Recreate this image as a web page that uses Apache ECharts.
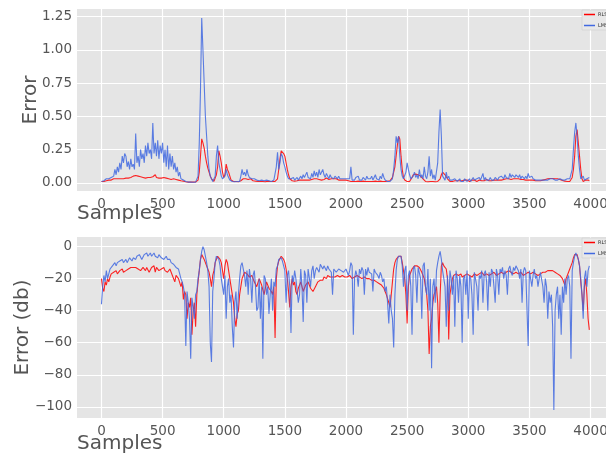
<!DOCTYPE html>
<html>
<head>
<meta charset="utf-8">
<script src="https://cdn.jsdelivr.net/npm/echarts@6/dist/echarts.min.js"></script>
<style>
  html, body { margin: 0; padding: 0; background: #fff; }
  #chart { width: 606px; height: 459px; }
</style>
</head>
<body>
<div id="chart"></div>
<script>
// one value every 10 samples
const STEP = 10;

// top panel: error (linear)
const rlsErr = [
  0.01,0.01,0.01,0.012,0.015,0.012,0.02,0.015,0.02,0.025,0.03,0.025,0.03,0.035,0.03,0.04,0.03,0.035,0.03,0.04,
  0.035,0.04,0.035,0.045,0.04,0.045,0.05,0.04,0.055,0.045,0.05,0.04,0.045,0.035,0.04,0.03,0.035,0.03,0.04,0.035,
  0.04,0.03,0.045,0.05,0.06,0.04,0.045,0.035,0.04,0.035,0.045,0.04,0.05,0.035,0.04,0.03,0.035,0.025,0.035,0.03,
  0.03,0.025,0.03,0.02,0.025,0.015,0.02,0.012,0.01,0.008,0.006,0.005,0.005,0.005,0.004,0.005,0.005,0.006,0.008,0.02,
  0.08,0.2,0.33,0.3,0.26,0.2,0.15,0.11,0.08,0.05,0.03,0.015,0.01,0.02,0.06,0.12,0.24,0.2,0.15,0.08,
  0.04,0.06,0.14,0.1,0.08,0.05,0.02,0.01,0.01,0.008,0.01,0.01,0.008,0.01,0.015,0.02,0.03,0.025,0.03,0.02,
  0.025,0.02,0.03,0.02,0.015,0.01,0.012,0.01,0.01,0.008,0.01,0.012,0.01,0.01,0.008,0.01,0.012,0.01,0.01,0.01,
  0.01,0.008,0.01,0.012,0.03,0.1,0.18,0.24,0.25,0.22,0.2,0.15,0.1,0.06,0.03,0.02,0.015,0.01,0.012,0.01,
  0.015,0.012,0.02,0.015,0.02,0.015,0.02,0.025,0.02,0.025,0.02,0.03,0.025,0.02,0.03,0.025,0.03,0.02,0.025,0.03,
  0.02,0.03,0.025,0.03,0.035,0.03,0.025,0.035,0.03,0.035,0.03,0.025,0.03,0.025,0.02,0.025,0.02,0.025,0.02,0.02,
  0.02,0.015,0.015,0.01,0.01,0.008,0.01,0.008,0.01,0.01,0.012,0.008,0.01,0.01,0.012,0.01,0.01,0.012,0.01,0.01,
  0.01,0.012,0.01,0.01,0.012,0.008,0.01,0.01,0.012,0.01,0.01,0.008,0.01,0.01,0.012,0.01,0.015,0.02,0.04,0.08,
  0.12,0.2,0.28,0.35,0.33,0.2,0.1,0.04,0.02,0.01,0.01,0.008,0.01,0.02,0.04,0.06,0.07,0.065,0.07,0.06,
  0.065,0.05,0.04,0.03,0.02,0.01,0.01,0.008,0.01,0.01,0.008,0.01,0.01,0.008,0.01,0.01,0.015,0.03,0.06,0.08,
  0.08,0.06,0.05,0.03,0.02,0.01,0.015,0.01,0.012,0.015,0.02,0.015,0.01,0.015,0.02,0.015,0.012,0.02,0.015,0.02,
  0.015,0.01,0.015,0.02,0.015,0.02,0.015,0.01,0.015,0.02,0.02,0.015,0.02,0.015,0.02,0.025,0.02,0.015,0.02,0.015,
  0.015,0.02,0.015,0.02,0.025,0.02,0.025,0.02,0.02,0.025,0.02,0.03,0.025,0.03,0.02,0.025,0.02,0.03,0.025,0.03,
  0.025,0.03,0.02,0.025,0.02,0.025,0.03,0.02,0.025,0.02,0.015,0.02,0.015,0.02,0.02,0.015,0.02,0.015,0.02,0.015,
  0.02,0.02,0.025,0.025,0.03,0.03,0.03,0.032,0.03,0.032,0.03,0.03,0.028,0.03,0.025,0.025,0.02,0.018,0.015,0.012,
  0.01,0.01,0.008,0.01,0.02,0.04,0.1,0.2,0.35,0.4,0.3,0.2,0.1,0.03,0.01,0.01,0.02,0.015,0.02,0.015
];
const lmsErr = [
  0.01,0.02,0.015,0.02,0.03,0.02,0.03,0.025,0.04,0.03,0.05,0.1,0.06,0.12,0.08,0.15,0.1,0.2,0.15,0.22,
  0.2,0.12,0.16,0.1,0.18,0.12,0.14,0.1,0.37,0.15,0.2,0.12,0.25,0.18,0.22,0.15,0.28,0.2,0.3,0.22,
  0.25,0.18,0.45,0.22,0.3,0.2,0.32,0.18,0.28,0.22,0.3,0.15,0.25,0.12,0.28,0.1,0.22,0.12,0.2,0.1,
  0.15,0.08,0.12,0.05,0.08,0.03,0.04,0.02,0.02,0.01,0.01,0.005,0.005,0.005,0.005,0.004,0.005,0.005,0.01,0.05,
  0.3,0.7,1.24,1.0,0.75,0.5,0.35,0.2,0.1,0.05,0.03,0.01,0.01,0.05,0.2,0.28,0.15,0.1,0.05,0.03,
  0.02,0.05,0.1,0.06,0.04,0.02,0.01,0.01,0.01,0.008,0.01,0.01,0.008,0.01,0.05,0.1,0.06,0.08,0.05,0.1,
  0.06,0.04,0.05,0.03,0.02,0.03,0.015,0.02,0.01,0.015,0.01,0.02,0.01,0.015,0.01,0.02,0.01,0.015,0.01,0.01,
  0.01,0.02,0.01,0.12,0.23,0.1,0.15,0.22,0.2,0.15,0.12,0.08,0.05,0.03,0.02,0.03,0.02,0.04,0.02,0.03,
  0.04,0.02,0.03,0.05,0.03,0.06,0.04,0.03,0.08,0.04,0.05,0.03,0.07,0.04,0.09,0.05,0.08,0.04,0.1,0.06,
  0.05,0.1,0.06,0.04,0.07,0.05,0.03,0.06,0.04,0.05,0.03,0.05,0.04,0.03,0.05,0.03,0.04,0.03,0.04,0.03,
  0.04,0.03,0.02,0.03,0.12,0.02,0.01,0.02,0.04,0.03,0.05,0.02,0.03,0.02,0.04,0.03,0.02,0.05,0.03,0.02,
  0.03,0.05,0.02,0.04,0.06,0.03,0.04,0.02,0.05,0.03,0.07,0.04,0.02,0.01,0.01,0.01,0.01,0.01,0.03,0.1,
  0.2,0.35,0.3,0.35,0.2,0.1,0.05,0.03,0.02,0.08,0.15,0.1,0.06,0.03,0.02,0.05,0.08,0.04,0.06,0.03,
  0.1,0.04,0.06,0.03,0.12,0.05,0.03,0.08,0.2,0.05,0.1,0.03,0.06,0.02,0.01,0.15,0.38,0.55,0.35,0.05,
  0.06,0.02,0.08,0.03,0.05,0.02,0.01,0.02,0.01,0.03,0.02,0.01,0.02,0.03,0.01,0.02,0.01,0.03,0.02,0.01,
  0.02,0.03,0.01,0.02,0.04,0.02,0.01,0.03,0.02,0.04,0.02,0.03,0.07,0.02,0.04,0.02,0.03,0.02,0.04,0.02,
  0.03,0.02,0.04,0.03,0.02,0.04,0.03,0.05,0.04,0.03,0.06,0.04,0.05,0.03,0.07,0.04,0.06,0.05,0.04,0.06,
  0.05,0.04,0.06,0.03,0.05,0.04,0.03,0.05,0.03,0.07,0.04,0.03,0.05,0.03,0.04,0.02,0.03,0.02,0.03,0.02,
  0.03,0.02,0.03,0.02,0.03,0.02,0.02,0.03,0.02,0.03,0.02,0.02,0.03,0.02,0.02,0.03,0.02,0.02,0.01,0.02,
  0.02,0.03,0.02,0.03,0.04,0.1,0.25,0.38,0.45,0.35,0.2,0.1,0.03,0.02,0.05,0.02,0.01,0.03,0.02,0.04
];

// bottom panel: error in dB
const rlsDb = [
  -20,-26,-28,-22,-24,-20,-22,-19,-17,-18,-16,-17,-15,-17,-16,-15,-16,-14,-16,-15,
  -15,-16,-14,-15,-13,-14,-13,-12,-13,-12,-14,-13,-15,-14,-13,-14,-15,-13,-14,-16,
  -15,-13,-14,-12,-16,-13,-14,-15,-16,-14,-15,-13,-15,-14,-16,-15,-14,-16,-18,-17,
  -22,-18,-17,-20,-19,-25,-22,-33,-28,-30,-45,-35,-38,-32,-55,-40,-35,-50,-30,-22,
  -15,-8,-5,-6,-8,-10,-12,-14,-16,-20,-25,-18,-15,-10,-8,-6,-7,-8,-10,-15,
  -20,-12,-8,-10,-15,-20,-25,-30,-35,-45,-50,-42,-40,-30,-25,-20,-18,-16,-15,-17,
  -17,-19,-20,-18,-18,-22,-22,-25,-25,-20,-20,-24,-24,-30,-30,-22,-22,-26,-26,-28,
  -30,-25,-57,-20,-12,-9,-8,-6,-6,-8,-10,-14,-20,-28,-38,-25,-20,-24,-22,-28,
  -30,-26,-25,-22,-22,-28,-28,-24,-24,-22,-22,-26,-26,-28,-28,-25,-25,-22,-22,-21,
  -20,-21,-19,-20,-20,-18,-19,-19,-20,-19,-18,-19,-19,-18,-18,-19,-19,-18,-19,-19,
  -18,-19,-19,-18,-18,-20,-20,-19,-19,-18,-18,-19,-19,-20,-20,-19,-19,-20,-20,-20,
  -21,-21,-22,-21,-21,-22,-22,-23,-23,-24,-24,-26,-28,-30,-30,-35,-38,-30,-22,-14,
  -10,-8,-7,-6,-5,-6,-10,-15,-20,-30,-48,-25,-18,-16,-14,-13,-12,-12,-12,-12,
  -13,-14,-16,-18,-20,-25,-30,-40,-67,-50,-45,-35,-30,-28,-25,-35,-60,-30,-12,-10,
  -12,-12,-14,-20,-58,-30,-25,-20,-18,-17,-17,-18,-18,-17,-17,-19,-19,-18,-18,-17,
  -17,-18,-18,-19,-19,-17,-17,-18,-18,-17,-17,-16,-16,-18,-18,-17,-17,-18,-18,-17,
  -17,-16,-16,-18,-18,-17,-17,-16,-16,-17,-17,-16,-16,-15,-15,-16,-16,-17,-17,-16,
  -16,-17,-17,-16,-16,-18,-18,-17,-17,-16,-16,-17,-17,-16,-16,-17,-17,-18,-18,-17,
  -17,-16,-16,-16,-16,-15,-15,-15,-15,-15,-16,-16,-16,-17,-17,-18,-18,-20,-22,-24,
  -20,-18,-16,-14,-12,-10,-7,-5,-4,-5,-8,-12,-22,-30,-40,-25,-20,-30,-45,-52
];
const lmsDb = [
  -36,-25,-18,-22,-15,-20,-17,-14,-15,-12,-13,-10,-12,-10,-11,-9,-10,-8,-10,-9,
  -8,-10,-9,-7,-8,-9,-7,-6,-8,-6,-7,-5,-6,-8,-7,-5,-6,-4,-6,-5,
  -4,-6,-5,-4,-6,-5,-7,-5,-6,-7,-6,-8,-7,-6,-8,-9,-8,-10,-9,-11,
  -10,-13,-12,-14,-15,-20,-22,-25,-30,-62,-28,-35,-45,-70,-32,-38,-45,-30,-28,-20,
  -15,-8,-3,0,-2,-6,-10,-15,-25,-60,-72,-28,-20,-10,-6,-7,-8,-12,-20,-25,
  -30,-18,-45,-25,-20,-35,-30,-50,-63,-35,-28,-45,-30,-20,-12,-10,-14,-18,-25,-15,
  -30,-14,-20,-35,-18,-15,-25,-40,-38,-20,-45,-25,-70,-18,-20,-30,-25,-42,-30,-20,
  -40,-22,-25,-14,-12,-8,-7,-7,-9,-12,-15,-35,-18,-15,-25,-54,-18,-22,-15,-20,
  -20,-35,-30,-14,-25,-47,-15,-18,-35,-14,-13,-25,-15,-12,-20,-15,-13,-12,-16,-11,
  -11,-14,-12,-13,-15,-12,-14,-13,-16,-30,-14,-13,-16,-15,-14,-13,-15,-14,-16,-15,
  -14,-16,-18,-15,-10,-12,-55,-20,-15,-18,-25,-14,-17,-13,-15,-30,-14,-18,-13,-16,
  -15,-17,-28,-14,-16,-15,-18,-20,-16,-18,-22,-20,-28,-25,-35,-48,-30,-40,-45,-63,
  -30,-15,-8,-6,-5,-6,-12,-25,-15,-12,-40,-18,-15,-25,-55,-14,-12,-18,-35,-13,
  -14,-20,-45,-12,-10,-25,-30,-14,-40,-20,-76,-25,-20,-35,-15,-10,-6,-3,-8,-15,
  -15,-25,-50,-18,-40,-15,-20,-30,-18,-50,-15,-20,-35,-18,-25,-60,-20,-18,-30,-15,
  -45,-18,-20,-30,-55,-16,-15,-25,-40,-18,-20,-15,-35,-17,-15,-22,-40,-16,-25,-14,
  -16,-25,-35,-14,-18,-30,-14,-16,-13,-20,-15,-18,-30,-14,-12,-16,-18,-13,-15,-12,
  -13,-15,-20,-14,-35,-16,-13,-15,-14,-62,-15,-14,-25,-18,-14,-20,-18,-25,-20,-16,
  -15,-25,-35,-20,-25,-45,-28,-35,-30,-50,-102,-40,-30,-25,-45,-30,-55,-25,-35,-20,
  -30,-20,-18,-25,-70,-15,-10,-6,-4,-5,-8,-12,-20,-30,-45,-20,-15,-25,-15,-12
];

const xTicks = [0, 500, 1000, 1500, 2000, 2500, 3000, 3500, 4000];
const errTicks = [0, 0.25, 0.5, 0.75, 1.0, 1.25];
const dbTicks = [-100, -80, -60, -40, -20, 0];

const seriesNames = ['RLS', 'LMS'];

const FONT = 'DejaVu Sans';
const LABEL_COLOR = '#555555';

function pairs(arr) {
  return arr.map((v, i) => [i * STEP, v]);
}
function minus(v) {
  return String(v).replace('-', '\u2212');
}

const chart = echarts.init(document.getElementById('chart'), null, { renderer: 'canvas' });

function xAxisFor(gridIndex) {
  return {
    type: 'value', gridIndex: gridIndex, min: -200, max: 4200,
    axisLine: { show: false },
    axisTick: { show: false, customValues: xTicks },
    axisLabel: {
      customValues: xTicks, margin: 6,
      color: LABEL_COLOR, fontSize: 13.5, fontFamily: FONT,
      formatter: v => minus(v)
    },
    splitLine: { show: true, lineStyle: { color: '#ffffff', width: 1.2 } }
  };
}

function yAxisFor(gridIndex, name, min, max, ticks, fmt, gap) {
  return {
    type: 'value', gridIndex: gridIndex, min: min, max: max,
    name: name, nameLocation: 'middle', nameGap: gap, nameMoveOverlap: false,
    nameTextStyle: { color: LABEL_COLOR, fontSize: 20, fontFamily: FONT },
    axisLine: { show: false },
    axisTick: { show: false, customValues: ticks },
    axisLabel: {
      customValues: ticks, margin: 5,
      color: LABEL_COLOR, fontSize: 13.5, fontFamily: FONT,
      formatter: fmt
    },
    splitLine: { show: true, lineStyle: { color: '#ffffff', width: 1.2 } }
  };
}

function lineSeries(name, data, color, axisIdx) {
  return {
    name: name, type: 'line', xAxisIndex: axisIdx, yAxisIndex: axisIdx,
    data: pairs(data), showSymbol: false, symbol: 'none',
    lineStyle: { color: color, width: 1.1, opacity: 0.85 },
    itemStyle: { color: color },
    emphasis: { disabled: true }
  };
}

function legendFor(top) {
  return {
    data: seriesNames, orient: 'vertical', left: 582, top: top,
    icon: 'rect', itemWidth: 11, itemHeight: 1.5, itemGap: 6,
    padding: 2, backgroundColor: '#e8e8e8', borderColor: '#cccccc', borderWidth: 0.6,
    textStyle: { fontSize: 5, color: '#333', fontFamily: FONT, padding: [0, 0, 0, -2] }
  };
}

const option = {
  animation: false,
  backgroundColor: '#ffffff',
  grid: [
    { left: 77, top: 9, right: -9, height: 182, show: true, backgroundColor: '#e5e5e5', borderWidth: 0, outerBoundsMode: 'none' },
    { left: 77, top: 237, right: -9, height: 181, show: true, backgroundColor: '#e5e5e5', borderWidth: 0, outerBoundsMode: 'none' }
  ],
  legend: [
    Object.assign(legendFor(10), { id: 'l1' }),
    Object.assign(legendFor(238), { id: 'l2' })
  ],
  xAxis: [xAxisFor(0), xAxisFor(1)],
  yAxis: [
    yAxisFor(0, 'Error', -0.062, 1.307, errTicks, v => v.toFixed(2), 36),
    yAxisFor(1, 'Error (db)', -107, 6, dbTicks, v => minus(v), 44)
  ],
  graphic: [
    { type: 'text', left: 77, top: 204, style: { text: 'Samples', fill: LABEL_COLOR, fontSize: 20, fontFamily: FONT } },
    { type: 'text', left: 77, top: 434, style: { text: 'Samples', fill: LABEL_COLOR, fontSize: 20, fontFamily: FONT } }
  ],
  series: [
    lineSeries('RLS', rlsErr, '#ff0000', 0),
    lineSeries('LMS', lmsErr, '#4169e1', 0),
    lineSeries('RLS', rlsDb, '#ff0000', 1),
    lineSeries('LMS', lmsDb, '#4169e1', 1)
  ]
};

chart.setOption(option);
</script>
</body>
</html>
